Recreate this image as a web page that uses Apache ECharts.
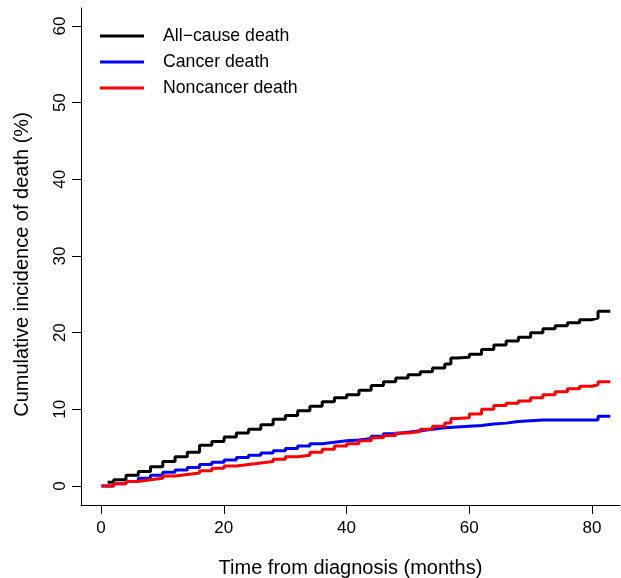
<!DOCTYPE html>
<html>
<head>
<meta charset="utf-8">
<script src="https://cdn.jsdelivr.net/npm/echarts@6/dist/echarts.min.js"></script>
<style>
  html, body { margin: 0; padding: 0; background: #fff; }
  #chart { width: 621px; height: 578px; }
</style>
</head>
<body>
<div id="chart"></div>
<script>
// months, cumulative incidence (%)
var allCause = [
  [1, 0.5], [2, 0.8], [4, 1.4], [6, 1.9], [8, 2.5], [10, 3.2], [12, 3.8], [14, 4.4],
  [16, 5.3], [18, 5.8], [20, 6.4], [22, 6.9], [24, 7.4], [26, 8.0], [28, 8.7], [30, 9.2],
  [32, 9.8], [34, 10.4], [36, 11.0], [38, 11.5], [40, 11.9], [42, 12.5], [44, 13.1],
  [46, 13.6], [48, 14.1], [50, 14.5], [52, 14.9], [54, 15.4], [56, 15.9], [57, 16.7],
  [58, 16.8], [60, 17.2], [62, 17.8], [64, 18.4], [66, 18.9], [68, 19.4], [70, 20.0],
  [72, 20.5], [74, 20.9], [76, 21.3], [78, 21.7], [80, 21.9], [81, 22.8], [83, 22.8]
];
var cancer = [
  [0, 0], [2, 0.3], [4, 0.6], [6, 1.0], [8, 1.4], [10, 1.8], [12, 2.1], [14, 2.4],
  [16, 2.8], [18, 3.1], [20, 3.4], [22, 3.7], [24, 4.0], [26, 4.3], [28, 4.6], [30, 4.9],
  [32, 5.2], [34, 5.5], [36, 5.7], [38, 5.9], [40, 6.0], [42, 6.2], [44, 6.5], [46, 6.8],
  [48, 7.0], [50, 7.2], [52, 7.4], [54, 7.6], [56, 7.7], [58, 7.8], [60, 7.9], [62, 8.1],
  [64, 8.2], [66, 8.4], [68, 8.5], [70, 8.6], [72, 8.6], [76, 8.6], [80, 8.6], [81, 9.1],
  [83, 9.1]
];
var noncancer = [
  [0, 0], [2, 0.3], [4, 0.6], [6, 0.8], [8, 1.0], [10, 1.3], [12, 1.5], [14, 1.7],
  [16, 2.0], [18, 2.3], [20, 2.6], [22, 2.8], [24, 3.0], [26, 3.2], [28, 3.5], [30, 3.8],
  [32, 4.0], [34, 4.4], [36, 4.8], [38, 5.2], [40, 5.5], [42, 5.9], [44, 6.3], [46, 6.6],
  [48, 6.9], [50, 7.1], [52, 7.4], [54, 7.8], [56, 8.2], [57, 8.8], [58, 8.9], [60, 9.4],
  [62, 10.0], [64, 10.5], [66, 10.8], [68, 11.1], [70, 11.5], [72, 11.9], [74, 12.3],
  [76, 12.7], [78, 13.0], [80, 13.2], [81, 13.6], [83, 13.6]
];
var seriesNames = ["All\u2212cause death", "Cancer death", "Noncancer death"];
var seriesColors = ["#000000", "#0000ff", "#ff0000"];
var xTickStep = 20, xMax = 80;
var yTickStep = 10, yMax = 60;

var font = "'Liberation Sans', Arial, Helvetica, sans-serif";
var seriesData = [allCause, cancer, noncancer];

function legendFor(k) {
  return {
    data: [seriesNames[k]],
    orient: "vertical",
    left: 100,
    top: 26 + 26 * k,
    padding: 0,
    itemWidth: 44,
    itemHeight: 3,
    icon: "rect",
    itemStyle: { color: seriesColors[k] },
    textStyle: { fontFamily: font, fontSize: 17.7, color: "#000", lineHeight: 20, padding: [0, 0, 0, 14] },
    selectedMode: false
  };
}

var option = {
  animation: false,
  // grid 0 = L shaped frame holding the curves (range padded like R),
  // grid 1 = 0..80 / 0..60 area that only carries the offset ticks and labels
  grid: [
    { left: 81, right: 1, top: 8, bottom: 73, outerBoundsMode: "none", containLabel: false },
    { left: 101, right: 29, top: 26, bottom: 92, outerBoundsMode: "none", containLabel: false }
  ],
  legend: [legendFor(0), legendFor(1), legendFor(2)],
  xAxis: [{
    gridIndex: 0,
    type: "value",
    min: -3.34,
    max: 84.58,
    name: "Time from diagnosis (months)",
    nameLocation: "middle",
    nameGap: 53,
    nameTextStyle: { fontFamily: font, fontSize: 20, color: "#000" },
    axisLine: { onZero: false, lineStyle: { color: "#000", width: 1 } },
    axisTick: { show: false },
    axisLabel: { show: false },
    splitLine: { show: false }
  }, {
    gridIndex: 1,
    type: "value",
    min: 0,
    max: xMax,
    interval: xTickStep,
    offset: 19,
    axisLine: { show: false, onZero: false },
    axisTick: { show: true, length: 9, lineStyle: { color: "#000" } },
    axisLabel: { margin: 15, fontFamily: font, fontSize: 17, color: "#000" },
    splitLine: { show: false }
  }],
  yAxis: [{
    gridIndex: 0,
    type: "value",
    min: -2.48,
    max: 62.35,
    name: "Cumulative incidence of death (%)",
    nameLocation: "middle",
    nameRotate: 90,
    nameGap: 49,
    nameTextStyle: { fontFamily: font, fontSize: 20, color: "#000", padding: [0, 16, 0, 0] },
    axisLine: { show: true, onZero: false, lineStyle: { color: "#000", width: 1 } },
    axisTick: { show: false },
    axisLabel: { show: false },
    splitLine: { show: false }
  }, {
    gridIndex: 1,
    type: "value",
    min: 0,
    max: yMax,
    interval: yTickStep,
    offset: 20,
    axisLine: { show: false, onZero: false },
    axisTick: { show: true, length: 9, lineStyle: { color: "#000" } },
    axisLabel: { rotate: 90, margin: 12, fontFamily: font, fontSize: 17, color: "#000" },
    splitLine: { show: false }
  }],
  series: seriesData.map(function (d, k) {
    return {
      name: seriesNames[k],
      type: "line",
      xAxisIndex: 0,
      yAxisIndex: 0,
      step: "end",
      data: d,
      symbol: "none",
      lineStyle: { color: seriesColors[k], width: 3 },
      itemStyle: { color: seriesColors[k] },
      z: 2 + k
    };
  })
};

var chart = echarts.init(document.getElementById("chart"));
chart.setOption(option);
</script>
</body>
</html>
